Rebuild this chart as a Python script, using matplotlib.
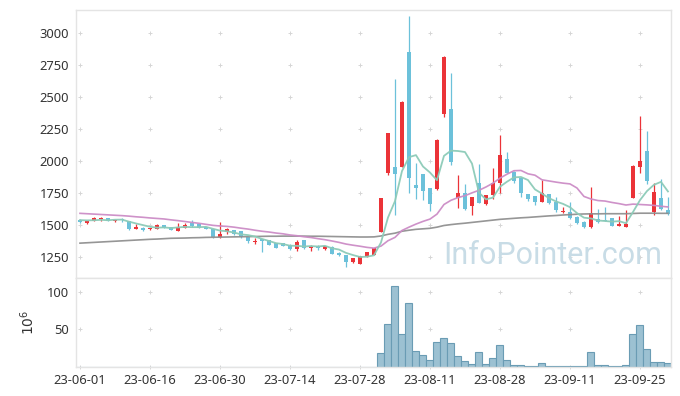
import numpy as np
import matplotlib
matplotlib.use("Agg")
import matplotlib.pyplot as plt
from matplotlib import font_manager

# daily candles, 23-06-01 .. (85 trading days)
opens = [1541, 1513, 1534, 1545, 1552, 1529, 1544, 1531, 1471, 1479,
         1466, 1471, 1497, 1484, 1453, 1479, 1513, 1505, 1486, 1469,
         1404, 1448, 1461, 1453, 1404, 1365, 1388, 1380, 1357, 1359,
         1346, 1313, 1383, 1318, 1339, 1310, 1331, 1279, 1266, 1208,
         1195, 1253, 1266, 1448, 1904, 1955, 1955, 2854, 1813, 1898,
         1786, 1781, 2367, 2406, 1713, 1752, 1651, 1826, 1664, 1734,
         1826, 2013, 1917, 1870, 1742, 1727, 1682, 1742, 1682, 1600,
         1599, 1565, 1526, 1482, 1547, 1542, 1552, 1495, 1487, 1713,
         1955, 2078, 1604, 1708, 1617]
highs = [1547, 1533, 1560, 1560, 1555, 1541, 1552, 1534, 1510, 1482,
         1479, 1505, 1499, 1486, 1516, 1516, 1542, 1508, 1488, 1471,
         1526, 1474, 1464, 1456, 1406, 1396, 1391, 1383, 1359, 1362,
         1352, 1383, 1386, 1344, 1346, 1339, 1334, 1292, 1268, 1242,
         1260, 1292, 1320, 1712, 2220, 2638, 2468, 3133, 1987, 1900,
         1790, 2168, 2820, 2685, 1891, 1820, 1720, 1977, 1737, 1943,
         2203, 2073, 1920, 1873, 1745, 1730, 1852, 1745, 1716, 1643,
         1682, 1568, 1529, 1794, 1625, 1638, 1555, 1570, 1617, 1965,
         2352, 2237, 1826, 1857, 1716]
lows = [1517, 1511, 1530, 1534, 1529, 1526, 1526, 1464, 1466, 1456,
        1463, 1466, 1476, 1458, 1450, 1474, 1487, 1476, 1468, 1398,
        1400, 1427, 1424, 1400, 1362, 1352, 1292, 1341, 1320, 1336,
        1307, 1300, 1315, 1300, 1307, 1307, 1273, 1260, 1172, 1205,
        1193, 1250, 1263, 1445, 1890, 1578, 1950, 1752, 1701, 1695,
        1612, 1776, 2346, 1969, 1630, 1620, 1578, 1672, 1660, 1701,
        1748, 1906, 1826, 1716, 1690, 1656, 1680, 1666, 1604, 1596,
        1544, 1508, 1479, 1474, 1518, 1531, 1489, 1493, 1485, 1710,
        1909, 1820, 1578, 1620, 1578]
closes = [1521, 1531, 1552, 1552, 1531, 1539, 1536, 1471, 1484, 1464,
          1477, 1500, 1479, 1461, 1486, 1497, 1492, 1479, 1471, 1409,
          1430, 1466, 1427, 1404, 1378, 1375, 1372, 1344, 1323, 1339,
          1310, 1370, 1318, 1339, 1323, 1336, 1276, 1266, 1208, 1240,
          1258, 1289, 1318, 1709, 2216, 1896, 2464, 1865, 1791, 1768,
          1662, 2164, 2815, 1995, 1752, 1622, 1716, 1674, 1734, 1826,
          2047, 1909, 1846, 1748, 1703, 1682, 1748, 1669, 1617, 1609,
          1552, 1518, 1487, 1591, 1526, 1534, 1492, 1508, 1508, 1961,
          2000, 1846, 1755, 1622, 1586]

# moving averages as drawn (5 / 20 / 60 day)
ma5 = [1538, 1536, 1537, 1540, 1537, 1541, 1542, 1526, 1512, 1499,
       1486, 1479, 1481, 1476, 1481, 1485, 1483, 1483, 1485, 1470,
       1456, 1451, 1441, 1427, 1421, 1410, 1391, 1375, 1358, 1351,
       1338, 1337, 1332, 1335, 1332, 1337, 1318, 1308, 1282, 1265,
       1250, 1252, 1263, 1363, 1558, 1686, 1921, 2030, 2046, 1957,
       1910, 1850, 2040, 2081, 2078, 2070, 1980, 1752, 1700, 1714,
       1799, 1838, 1872, 1875, 1851, 1778, 1745, 1710, 1684, 1665,
       1639, 1593, 1557, 1551, 1535, 1531, 1526, 1530, 1514, 1601,
       1694, 1765, 1814, 1837, 1762]
ma20 = [1591, 1588, 1585, 1582, 1579, 1576, 1573, 1569, 1564, 1560,
        1555, 1551, 1547, 1540, 1534, 1527, 1520, 1513, 1505, 1497,
        1492, 1489, 1483, 1475, 1468, 1459, 1451, 1445, 1437, 1431,
        1422, 1416, 1408, 1402, 1393, 1385, 1375, 1364, 1351, 1342,
        1334, 1325, 1319, 1335, 1377, 1403, 1457, 1483, 1507, 1528,
        1546, 1585, 1660, 1693, 1714, 1729, 1751, 1771, 1797, 1827,
        1866, 1897, 1924, 1926, 1900, 1889, 1853, 1844, 1835, 1827,
        1821, 1789, 1723, 1703, 1691, 1687, 1676, 1667, 1656, 1663,
        1660, 1657, 1653, 1646, 1641]
ma60 = [1358, 1361, 1364, 1367, 1370, 1373, 1376, 1379, 1382, 1385,
        1388, 1390, 1393, 1396, 1397, 1398, 1400, 1401, 1403, 1404,
        1405, 1406, 1407, 1408, 1409, 1410, 1411, 1412, 1412, 1413,
        1413, 1413, 1413, 1412, 1412, 1411, 1410, 1409, 1408, 1407,
        1406, 1406, 1407, 1414, 1427, 1436, 1451, 1459, 1466, 1470,
        1474, 1483, 1496, 1503, 1509, 1514, 1520, 1526, 1532, 1538,
        1544, 1548, 1552, 1556, 1559, 1563, 1567, 1571, 1574, 1578,
        1581, 1584, 1586, 1587, 1587, 1588, 1588, 1588, 1588, 1590,
        1592, 1592, 1592, 1591, 1591]

# volume, millions (before the jump it is too small to see)
volumes = [0.05, 0.04, 0.05, 0.04, 0.05, 0.04, 0.04, 0.06, 0.05, 0.04,
           0.04, 0.05, 0.04, 0.04, 0.05, 0.04, 0.05, 0.04, 0.04, 0.06,
           0.05, 0.04, 0.04, 0.05, 0.05, 0.04, 0.06, 0.05, 0.05, 0.04,
           0.05, 0.05, 0.04, 0.04, 0.04, 0.04, 0.05, 0.05, 0.07, 0.05,
           0.06, 0.05, 0.06, 18.6, 57, 107, 43.8, 84.5, 21.2, 15.5,
           9.3, 33.2, 38, 31.8, 14.6, 8, 4, 19.9, 4, 12,
           29, 9.3, 2.5, 2.5, 1.3, 1.3, 4.4, 1.2, 1.2, 1.2,
           1.2, 1.2, 1.2, 20, 2.5, 2.5, 1.2, 1.2, 2.5, 43.8,
           55.7, 23.9, 6.2, 6.2, 5]

tick_labels = ['23-06-01', '23-06-16', '23-06-30', '23-07-14', '23-07-28',
               '23-08-11', '23-08-28', '23-09-11', '23-09-25']
price_ticks = [1250, 1500, 1750, 2000, 2250, 2500, 2750, 3000]
volume_ticks = [50, 100]

UP = '#eb3338'
DOWN = '#6cc1da'
GRID = '#d6d6d6'
SPINE = '#e4e4e4'
TXT = '#333333'

plt.rcParams['font.family'] = ['Noto Sans', 'DejaVu Sans']

x = np.arange(len(closes))
o = np.array(opens, float)
c = np.array(closes, float)
h = np.array(highs, float)
l = np.array(lows, float)
up = c >= o
colors = np.where(up, UP, DOWN)
tick_pos = np.arange(len(tick_labels)) * 10

fig = plt.figure(figsize=(6.8, 3.96), dpi=100)
fig.patch.set_facecolor('white')
ax = fig.add_axes([0.11176, 0.29874, 0.8757, 0.67601])
axv = fig.add_axes([0.11176, 0.07399, 0.8757, 0.22475], sharex=ax)

# --- price panel ---
gx, gy = np.meshgrid(tick_pos, price_ticks)
ax.scatter(gx.ravel(), gy.ravel(), marker='+', s=12, color=GRID, linewidths=0.7, zorder=0)

ax.vlines(x, l, h, colors=colors, linewidth=0.9, zorder=2)
body_lo = np.minimum(o, c)
body_h = np.maximum(np.abs(c - o), 8)
ax.bar(x, body_h, bottom=body_lo, width=0.7, color=colors, linewidth=0, zorder=3)

ax.plot(x, ma60, color='#909090', lw=1.2, alpha=0.95, zorder=4)
ax.plot(x, ma20, color='#cc8cc6', lw=1.2, alpha=0.95, zorder=4)
ax.plot(x, ma5, color='#8ccbb8', lw=1.3, alpha=0.95, zorder=4)

ax.set_ylim(1088, 3180)
ax.set_xlim(-0.57, 84.5)
ax.set_yticks(price_ticks)
ax.tick_params(axis='y', length=0, pad=5, labelsize=9.3, labelcolor=TXT)
ax.tick_params(axis='x', length=0, labelbottom=False)

# watermark
names = {f.name for f in font_manager.fontManager.ttflist}
if 'Liberation Sans Narrow' in names:
    wm_family, wm_size = 'Liberation Sans Narrow', 26.5
else:
    wm_family, wm_size = 'Roboto', 22
ax.text(553 / 680, 1 - 256 / 396, 'InfoPointer.com', transform=fig.transFigure,
        ha='center', va='center', fontsize=wm_size, family=wm_family,
        color='#c8dce6', zorder=1)

# --- volume panel ---
gx, gy = np.meshgrid(tick_pos, [0] + volume_ticks)
axv.scatter(gx.ravel(), gy.ravel(), marker='+', s=12, color=GRID, linewidths=0.7,
            zorder=0, clip_on=False)
axv.bar(x, volumes, width=1.0, color='#9cc1d2', edgecolor='#6a9cb4', linewidth=0.8, zorder=2)
axv.set_ylim(0, 118.7)
axv.set_yticks(volume_ticks)
axv.set_xticks(tick_pos)
axv.set_xticklabels(tick_labels)
axv.tick_params(axis='both', length=0, pad=5, labelsize=9.3, labelcolor=TXT)
axv.set_ylabel(r'$10^6$', color=TXT, fontsize=10)
axv.yaxis.set_label_coords(-0.064, 0.5)

for a in (ax, axv):
    a.set_facecolor('white')
    for s in a.spines.values():
        s.set_color(SPINE)
        s.set_linewidth(1.0)
    a.spines['bottom'].set_zorder(5)

fig.savefig('out.png', dpi=100, facecolor='white')
